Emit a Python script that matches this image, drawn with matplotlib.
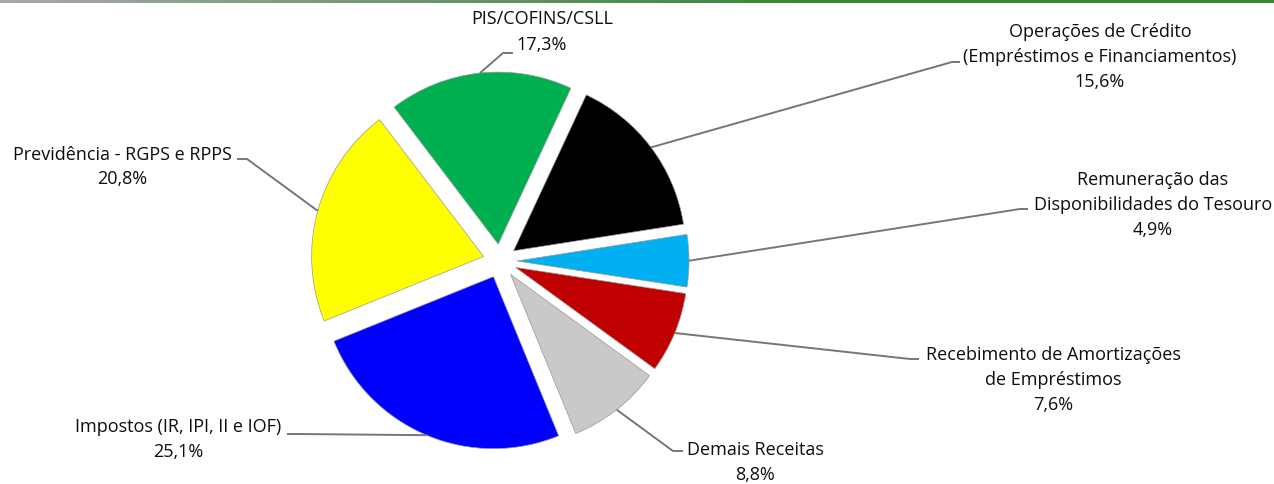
import matplotlib
matplotlib.use("Agg")
import matplotlib.pyplot as plt
import numpy as np

# receitas - participacao percentual
categorias = ["Operações de Crédito\n(Empréstimos e Financiamentos)",
              "Remuneração das\nDisponibilidades do Tesouro",
              "Recebimento de Amortizações\nde Empréstimos",
              "Demais Receitas",
              "Impostos (IR, IPI, II e IOF)",
              "Previdência - RGPS e RPPS",
              "PIS/COFINS/CSLL"]
valores = [15.6, 4.9, 7.6, 8.8, 25.1, 20.8, 17.3]
cores = ["#000000", "#00B0F0", "#C00000", "#C9C9C9", "#0000FF", "#FFFF00", "#00B050"]

W, H = 1274, 485

# layout in image pixels (y down): label block centre, leader elbow, leader end
txt_pos = [(1100, 57), (1153, 205), (1053, 380), (755, 463), (178, 440), (122, 167), (542, 32)]
elbows = [(952, 63), (1020, 210), (910, 360), (673, 452), (296, 435), (247, 160), (503, 54)]
ends = [(960, 63), (1028, 210), (919, 360), (683, 452), (287, 435), (237, 160), (513, 54)]

plt.rcParams['font.family'] = ['Open Sans', 'DejaVu Sans']

fig = plt.figure(figsize=(W / 100, H / 100), dpi=100)
ax = fig.add_axes([0, 0, 1, 1])

wedges, _ = ax.pie(valores, colors=cores, startangle=65, counterclock=False,
                   radius=172, center=(500, H - 262), explode=[17] * len(valores),
                   wedgeprops=dict(edgecolor="#999999", linewidth=0.5))
ax.set_xlim(0, W)
ax.set_ylim(0, H)
ax.set_aspect("equal")
ax.axis("off")

for w, cat, v, tp, el, en in zip(wedges, categorias, valores, txt_pos, elbows, ends):
    tm = np.deg2rad((w.theta1 + w.theta2) / 2)
    x0 = w.center[0] + w.r * np.cos(tm)
    y0 = w.center[1] + w.r * np.sin(tm)
    ax.plot([x0, el[0], en[0]], [y0, H - el[1], H - en[1]], color="#767676", lw=1.4,
            solid_capstyle="butt")
    lab = cat + "\n" + f"{v:.1f}".replace(".", ",") + "%"
    ax.text(tp[0], H - tp[1], lab, ha="center", va="center", fontsize=13,
            linespacing=1.5, color="#0d0d0d")

# faixa superior em degrade cinza -> verde
top = fig.add_axes([0, 1 - 3.5 / H, 1, 3.5 / H])
grad = np.linspace(0, 1, 256)
c0 = np.array([0.66, 0.66, 0.66])
c1 = np.array([0.22, 0.53, 0.22])
mix = np.clip(grad * 1.6, 0, 1)[:, None]
img = (c0 * (1 - mix) + c1 * mix)[None, :, :]
top.imshow(img, aspect="auto", extent=(0, 1, 0, 1))
top.axis("off")

fig.savefig("out.png", dpi=100)
